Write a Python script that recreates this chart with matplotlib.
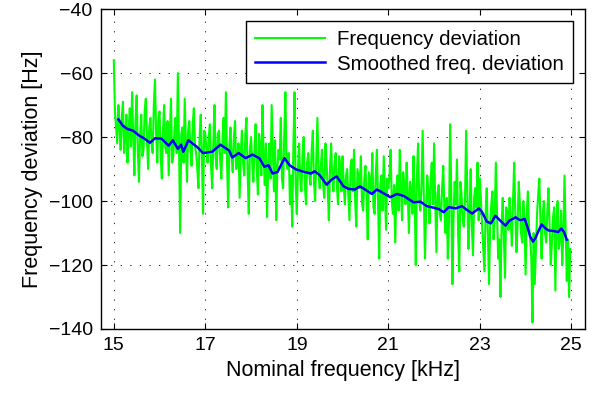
import numpy as np
import matplotlib
matplotlib.use("Agg")
import matplotlib.pyplot as plt

# ======================================
# DATA
# ======================================
freq_start = 15.0    # kHz, first sample
freq_step = 0.025    # kHz, spacing of the raw samples

# raw frequency deviation [Hz], one row per kHz (15-16, 16-17, ...)
freq_dev = [
    -56, -72, -77, -82, -70, -76, -84, -74, -69, -85, -80, -73, -88, -78, -71, -83, -66, -80, -92, -75,
    -67, -84, -94, -79, -73, -86, -84, -72, -68, -81, -90, -77, -74, -82, -85, -70, -62, -79, -88, -74,
    -72, -86, -93, -78, -70, -83, -85, -75, -92, -80, -68, -88, -86, -78, -74, -85, -60, -82, -110, -79,
    -77, -88, -68, -81, -94, -78, -75, -84, -89, -76, -71, -83, -85, -90, -96, -80, -73, -85, -104, -78,
    -79, -84, -88, -80, -76, -89, -96, -82, -70, -86, -90, -79, -78, -87, -93, -81, -74, -85, -66, -88,
    -102, -83, -77, -86, -91, -80, -75, -90, -87, -82, -99, -85, -78, -88, -92, -79, -74, -91, -104, -84,
    -80, -88, -94, -84, -76, -90, -98, -79, -83, -92, -70, -86, -95, -82, -105, -89, -82, -93, -70, -84,
    -97, -81, -106, -90, -84, -87, -74, -93, -96, -80, -66, -88, -90, -85, -101, -92, -108, -83, -66, -95,
    -104, -90, -82, -93, -97, -86, -80, -95, -101, -88, -85, -92, -95, -84, -78, -94, -100, -87, -74, -91,
    -96, -89, -84, -95, -99, -82, -88, -96, -106, -90, -82, -93, -97, -88, -85, -95, -101, -86, -89, -97,
    -86, -95, -101, -92, -90, -98, -106, -89, -87, -97, -84, -100, -108, -90, -93, -96, -86, -101, -103, -93,
    -89, -99, -112, -91, -94, -97, -85, -102, -104, -92, -84, -100, -118, -95, -92, -103, -86, -98, -109, -93,
    -96, -92, -84, -100, -104, -95, -113, -97, -92, -103, -84, -96, -106, -91, -95, -101, -88, -98, -110, -94,
    -97, -104, -86, -99, -120, -92, -82, -100, -103, -95, -78, -98, -118, -104, -92, -97, -107, -93, -88, -101,
    -82, -100, -116, -98, -95, -104, -106, -96, -89, -103, -110, -99, -118, -107, -76, -97, -126, -105, -94, -101,
    -87, -110, -122, -94, -98, -106, -108, -100, -78, -97, -115, -104, -90, -108, -117, -99, -96, -102, -88, -106,
    -93, -100, -108, -115, -122, -104, -96, -110, -126, -108, -101, -97, -112, -105, -88, -103, -118, -112, -130, -108,
    -99, -111, -124, -102, -104, -109, -99, -106, -114, -100, -88, -104, -116, -107, -94, -101, -110, -113, -100, -106,
    -123, -104, -97, -108, -112, -118, -138, -110, -126, -115, -104, -98, -93, -107, -118, -104, -100, -110, -113, -103,
    -96, -108, -120, -113, -105, -102, -128, -106, -100, -115, -112, -103, -120, -110, -92, -108, -125, -112, -130, -115,
]

# smoothed deviation (blue curve)
smooth_freq = [
    15.10, 15.20, 15.30, 15.42, 15.55, 15.65, 15.79, 15.90, 16.04, 16.20,
    16.29, 16.40, 16.47, 16.52, 16.63, 16.82, 16.95, 17.15, 17.33, 17.52,
    17.59, 17.73, 17.88, 18.03, 18.18, 18.29, 18.38, 18.47, 18.58, 18.73,
    18.84, 18.98, 19.16, 19.31, 19.39, 19.50, 19.65, 19.76, 19.87, 20.02,
    20.13, 20.27, 20.38, 20.49, 20.64, 20.75, 20.90, 21.04, 21.19, 21.33,
    21.40, 21.55, 21.70, 21.84, 21.99, 22.10, 22.21, 22.32, 22.47, 22.61,
    22.72, 22.83, 22.98, 23.05, 23.15, 23.24, 23.34, 23.45, 23.56, 23.64,
    23.78, 23.88, 23.98, 24.03, 24.10, 24.16, 24.21, 24.28, 24.35, 24.43,
    24.50, 24.62, 24.71, 24.78, 24.84, 24.90,
]
smooth_dev = [
    -74.5, -76.5, -77.5, -78.0, -79.5, -80.3, -81.8, -80.4, -80.5, -82.7,
    -81.0, -83.7, -82.4, -84.6, -81.0, -83.1, -85.0, -84.6, -82.4, -84.2,
    -86.4, -85.0, -86.6, -85.5, -86.6, -89.3, -88.8, -91.4, -90.9, -86.6,
    -88.8, -90.1, -90.9, -91.4, -90.7, -91.9, -94.9, -93.3, -92.3, -95.4,
    -96.2, -96.4, -95.4, -96.4, -97.8, -96.4, -97.6, -98.8, -97.8, -98.4,
    -99.0, -100.4, -100.2, -101.6, -102.1, -102.5, -103.5, -101.9, -102.3, -101.6,
    -102.8, -103.9, -102.3, -103.5, -106.4, -107.0, -104.6, -106.2, -107.7, -106.2,
    -105.1, -106.0, -105.6, -107.7, -111.1, -112.7, -111.7, -109.4, -107.3, -108.5,
    -109.2, -109.4, -109.7, -108.6, -109.7, -112.1,
]

x_ticks = [15, 17, 19, 21, 23, 25]
y_ticks = [-140, -120, -100, -80, -60, -40]

freq = freq_start + freq_step * np.arange(len(freq_dev))

# ======================================
# FIGURE
# ======================================
plt.rcParams['font.family'] = ['Liberation Sans', 'DejaVu Sans']

fig = plt.figure(figsize=(5.94, 3.94), dpi=100)
ax = fig.add_axes([0.170, 0.165, 0.815, 0.812])

ax.plot(freq, freq_dev, color='#00ff00', linewidth=1.5, label='Frequency deviation')
ax.plot(smooth_freq, smooth_dev, color='#0000ff', linewidth=1.8, label='Smoothed freq. deviation')

ax.set_xlim(14.72, 25.3)
ax.set_ylim(-140, -40)
ax.set_xticks(x_ticks)
ax.set_yticks(y_ticks)
ax.set_xlabel('Nominal frequency [kHz]', fontsize=15.5)
ax.set_ylabel('Frequency deviation [Hz]', fontsize=15.5)
ax.tick_params(axis='both', direction='in', top=True, right=True,
               length=4, width=0.8, labelsize=14, pad=6)
ax.grid(True, color='black', linestyle=(0, (1.5, 10)), linewidth=0.6)
for sp in ax.spines.values():
    sp.set_linewidth(1.0)

leg = ax.legend(loc='upper right', fontsize=14.7, fancybox=False, edgecolor='black',
                framealpha=1, handlelength=3.4, borderaxespad=0.6,
                borderpad=0.45, labelspacing=0.25, handletextpad=0.6)
leg.get_frame().set_linewidth(1.0)

fig.savefig('out.png', dpi=100)
